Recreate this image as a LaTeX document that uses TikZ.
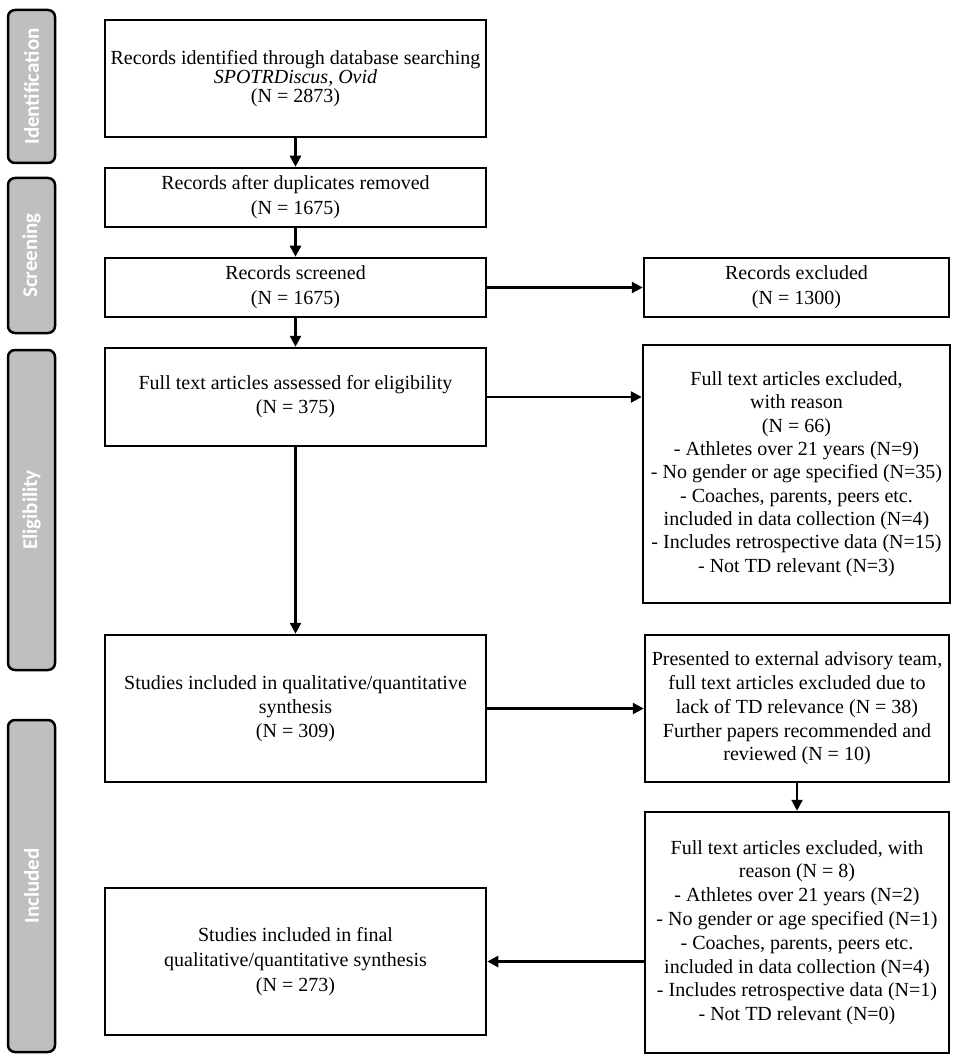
\documentclass[tikz,border=0pt]{standalone}
\usepackage{fontspec}
\setmainfont{Liberation Serif}
\newfontfamily\labfont{Carlito}
\usetikzlibrary{arrows.meta}
\definecolor{labgray}{HTML}{BFBFBF}
\begin{document}
\begin{tikzpicture}[x=1pt,y=-1pt,
  box/.style={draw=black, line width=2.5pt, fill=white, align=center, inner sep=0pt, font=\fontsize{20}{24}\selectfont},
  phase/.style={draw=black, line width=2.5pt, fill=labgray, rounded corners=7pt, inner sep=0pt, minimum height=47pt, rotate=90, text=white, font=\labfont\bfseries\fontsize{21}{24}\selectfont},
  arr/.style={line width=2.5pt, -{Triangle[length=11pt,width=11pt]}}]
\useasboundingbox (0,0) rectangle (957,1064);

% phase labels
\node[phase, minimum width=153pt] (pI) at (31.5,86.5) {Identification};
\node[phase, minimum width=155pt] (pS) at (31.5,255.5) {Screening};
\node[phase, minimum width=320pt] (pE) at (31.5,510) {Eligibility};
\node[phase, minimum width=332pt] (pN) at (31.5,886) {Included};

% left column
\node[box, minimum width=381pt, minimum height=117pt, font=\fontsize{20}{19}\selectfont] (b1) at (295.5,78.5)
  {Records identified through database searching\\ \textit{SPOTRDiscus, Ovid}\\ (N = 2873)};
\node[box, minimum width=381pt, minimum height=59pt, font=\fontsize{20}{25}\selectfont] (b2) at (295.5,197.5)
  {Records after duplicates removed\\ (N = 1675)};
\node[box, minimum width=381pt, minimum height=59pt, font=\fontsize{20}{25}\selectfont] (b3) at (295.5,287.5)
  {Records screened\\ (N = 1675)};
\node[box, minimum width=381pt, minimum height=98pt] (b4) at (295.5,397)
  {Full text articles assessed for eligibility\\ (N = 375)};
\node[box, minimum width=381pt, minimum height=147pt] (b5) at (295.5,708.5)
  {Studies included in qualitative/quantitative\\ synthesis\\ (N = 309)};
\node[box, minimum width=381pt, minimum height=147pt, font=\fontsize{20}{25}\selectfont] (b6) at (295.5,961.5)
  {Studies included in final\\ qualitative/quantitative synthesis\\ (N = 273)};

% right column
\node[box, minimum width=305pt, minimum height=59pt, font=\fontsize{20}{25}\selectfont] (e1) at (796.5,287.5)
  {Records excluded\\ (N = 1300)};
\node[box, minimum width=307pt, minimum height=258pt, font=\fontsize{20}{23.3}\selectfont] (e2) at (796.5,474)
  {Full text articles excluded,\\ with reason\\ (N = 66)\\ - Athletes over 21 years (N=9)\\
   - No gender or age specified (N=35)\\ - Coaches, parents, peers etc.\\ included in data collection (N=4)\\
   - Includes retrospective data (N=15)\\ - Not TD relevant (N=3)};
\node[box, minimum width=304pt, minimum height=147pt, font=\fontsize{20}{23.7}\selectfont] (p) at (797,708.5)
  {Presented to external advisory team,\\ full text articles excluded due to\\ lack of TD relevance (N = 38)\\
   Further papers recommended and\\ reviewed (N = 10)};
\node[box, minimum width=304pt, minimum height=241pt, font=\fontsize{20}{23.8}\selectfont] (e3) at (797,932.5)
  {Full text articles excluded, with\\ reason (N = 8)\\ - Athletes over 21 years (N=2)\\
   - No gender or age specified (N=1)\\ - Coaches, parents, peers etc.\\ included in data collection (N=4)\\
   - Includes retrospective data (N=1)\\ - Not TD relevant (N=0)};

% connectors
\draw[arr] (b1.south) -- (b2.north);
\draw[arr] (b2.south) -- (b3.north);
\draw[arr] (b3.south) -- (b4.north);
\draw[arr] (b4.south) -- (b5.north);
\draw[arr] (b3.east) -- (e1.west);
\draw[arr] (b4.east) -- (b4.east -| e2.west);
\draw[arr] (b5.east) -- (b5.east -| p.west);
\draw[arr] (p.south) -- (e3.north);
\draw[arr] (e3.west |- b6.east) -- (b6.east);
\end{tikzpicture}
\end{document}
